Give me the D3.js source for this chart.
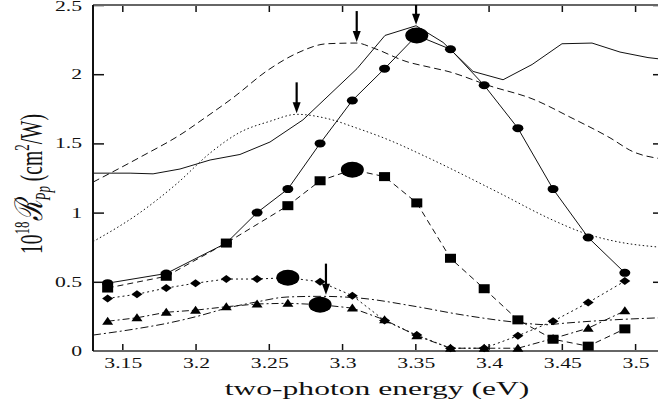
<!doctype html>
<html>
<head>
<meta charset="utf-8">
<title>two-photon response</title>
<script src="https://cdn.jsdelivr.net/npm/d3@7"></script>
<style>
  body { margin: 0; background: #fff; }
  text { font-family: "Liberation Serif", "DejaVu Serif", serif; fill: #111; }
</style>
</head>
<body>
<div id="chart"></div>
<script>
  // marker energies (eV)
  var energies = [3.14, 3.16, 3.18, 3.20, 3.221, 3.242, 3.263, 3.285, 3.307, 3.329,
    3.351, 3.374, 3.397, 3.42, 3.444, 3.468, 3.493];
  var circles = [0.49, null, 0.56, null, 0.78, 1.0, 1.17, 1.50, 1.81, 2.04,
    2.28, 2.18, 1.92, 1.61, 1.17, 0.82, 0.565];
  var squares = [0.455, null, 0.54, null, 0.78, null, 1.05, 1.23, 1.31, 1.26,
    1.07, 0.67, 0.45, 0.225, 0.085, 0.035, 0.16];
  var diamonds = [0.38, 0.41, 0.455, 0.49, 0.52, 0.52, 0.53, 0.50, 0.40, 0.22,
    0.115, 0.02, 0.02, 0.11, 0.215, 0.35, 0.505];
  var triangles = [0.215, 0.24, 0.28, 0.295, 0.32, 0.34, 0.345, 0.335, 0.31, 0.225,
    0.11, 0.02, 0.02, 0.02, 0.09, 0.165, 0.29];
  // index of the big (maximum) marker in each series
  var peakIndex = {circles: 10, squares: 8, diamonds: 6, triangles: 7};

  // curves without markers
  var solidE = [3.13, 3.1553, 3.171, 3.1894, 3.2099, 3.2303, 3.2508, 3.2733, 3.3102, 3.3293,
    3.3505, 3.3689, 3.3894, 3.4099, 3.4297, 3.4501, 3.4706, 3.4897, 3.5088, 3.517];
  var solidV = [1.285, 1.285, 1.28, 1.315, 1.38, 1.42, 1.51, 1.67, 2.04, 2.28,
    2.35, 2.23, 2.02, 1.96, 2.07, 2.22, 2.225, 2.16, 2.12, 2.11];
  var dashedE = [3.13, 3.1621, 3.1914, 3.2044, 3.2256, 3.2495, 3.2699, 3.2897, 3.3102, 3.3211,
    3.3443, 3.36, 3.3723, 3.401, 3.4303, 3.4556, 3.4829, 3.4986, 3.517];
  var dashedV = [1.22, 1.40, 1.575, 1.67, 1.83, 2.03, 2.155, 2.22, 2.225, 2.19,
    2.09, 2.05, 2.02, 1.915, 1.82, 1.69, 1.54, 1.44, 1.39];
  var dottedE = [3.13, 3.1621, 3.1873, 3.2099, 3.2303, 3.2508, 3.2692, 3.2897, 3.3102, 3.3307,
    3.36, 3.4058, 3.444, 3.4658, 3.4877, 3.517];
  var dottedV = [0.79, 1.0, 1.21, 1.43, 1.58, 1.66, 1.71, 1.68, 1.61, 1.53,
    1.39, 1.15, 0.945, 0.85, 0.79, 0.75];
  var dashdotE = [3.13, 3.1621, 3.1805, 3.201, 3.2215, 3.2419, 3.2624, 3.285, 3.3143, 3.3484,
    3.3826, 3.4167, 3.4399, 3.4508, 3.4849, 3.517];
  var dashdotV = [0.115, 0.165, 0.2, 0.25, 0.31, 0.355, 0.39, 0.395, 0.38, 0.325,
    0.26, 0.21, 0.19, 0.2, 0.225, 0.24];

  // arrows: energy and value of the tip
  var arrowE = [3.31, 3.3505, 3.269, 3.289];
  var arrowV = [2.225, 2.35, 1.71, 0.40];

  var xTicks = [3.15, 3.2, 3.25, 3.3, 3.35, 3.4, 3.45, 3.5];
  var yTicks = [0, 0.5, 1, 1.5, 2, 2.5];

  var W = 658, H = 408;
  var pLeft = 93, pRight = 660, pTop = 5, pBottom = 351;
  var stretch = 1.55;  // the original figure is stretched sideways

  var svg = d3.select('#chart').append('svg')
      .attr('width', W)
      .attr('height', H);

  var x = d3.scaleLinear().domain([3.13, 3.517]).range([pLeft, pRight]);
  var y = d3.scaleLinear().domain([0, 2.5]).range([pBottom, pTop]);

  // axes (ticks inside)
  var gl = svg.append('g').attr('transform', 'translate(' + pLeft + ',0)')
      .call(d3.axisRight(y).tickValues(yTicks.slice(1)).tickSize(11).tickFormat(''));
  var gr = svg.append('g').attr('transform', 'translate(' + pRight + ',0)')
      .call(d3.axisLeft(y).tickValues(yTicks.slice(1)).tickSize(7).tickFormat(''));
  var gb = svg.append('g').attr('transform', 'translate(0,' + pBottom + ')')
      .call(d3.axisTop(x).tickValues(xTicks).tickSize(7).tickFormat(''));
  var gt = svg.append('g').attr('transform', 'translate(0,' + pTop + ')')
      .call(d3.axisBottom(x).tickValues(xTicks).tickSize(7).tickFormat(''));
  [gl, gr, gb, gt].forEach(function(g) {
    g.select('.domain').remove();
    g.selectAll('.tick line').attr('stroke', '#111').attr('stroke-width', 1.5);
  });

  // frame
  svg.append('line').attr('x1', pLeft).attr('x2', pRight).attr('y1', pTop).attr('y2', pTop)
      .attr('stroke', '#666').attr('stroke-width', 2);
  svg.append('line').attr('x1', pLeft).attr('x2', pRight).attr('y1', pBottom).attr('y2', pBottom)
      .attr('stroke', '#666').attr('stroke-width', 2);
  svg.append('line').attr('x1', pLeft).attr('x2', pLeft).attr('y1', pTop).attr('y2', pBottom)
      .attr('stroke', '#111').attr('stroke-width', 2);

  // tick labels
  svg.append('g').selectAll('text').data(yTicks).enter().append('text')
      .attr('transform', function(d) {
        return 'translate(82,' + Math.max(y(d) + 5, 11) + ') scale(' + stretch + ',1)';
      })
      .attr('text-anchor', 'end')
      .attr('font-size', '14px')
      .text(function(d) { return String(d); });
  svg.append('g').selectAll('text').data(xTicks).enter().append('text')
      .attr('transform', function(d) {
        return 'translate(' + (x(d) + 1) + ',368) scale(' + stretch + ',1)';
      })
      .attr('text-anchor', 'middle')
      .attr('font-size', '14px')
      .text(function(d) { return String(d); });

  // axis titles
  svg.append('text')
      .attr('transform', 'translate(377,395) scale(1.62,1)')
      .attr('text-anchor', 'middle')
      .attr('font-size', '19.5px')
      .text('two-photon energy (eV)');

  var yt = svg.append('text')
      .attr('transform', 'translate(42,184) scale(1.6,1) rotate(-90)')
      .attr('text-anchor', 'middle')
      .attr('font-size', '19.5px');
  yt.append('tspan').text('10');
  yt.append('tspan').attr('dy', -8).attr('font-size', '13px').text('18');
  yt.append('tspan').attr('dy', 8).attr('font-style', 'italic').attr('font-size', '24px').text('ℛ');
  yt.append('tspan').attr('dy', 5).attr('font-style', 'italic').attr('font-size', '13px').text('Pp');
  yt.append('tspan').attr('dy', -5).text(' (cm');
  yt.append('tspan').attr('dy', -8).attr('font-size', '13px').text('2');
  yt.append('tspan').attr('dy', 8).text('/W)');

  var plot = svg.append('g');

  function drawCurve(es, vs, dash, curve) {
    var pts = es.map(function(e, i) { return [e, vs[i]]; });
    plot.append('path')
        .datum(pts)
        .attr('fill', 'none')
        .attr('stroke', '#111')
        .attr('stroke-width', 1)
        .attr('stroke-dasharray', dash)
        .attr('d', d3.line()
            .x(function(d) { return x(d[0]); })
            .y(function(d) { return y(d[1]); })
            .curve(curve));
  }

  drawCurve(solidE, solidV, null, d3.curveLinear);
  drawCurve(dashedE, dashedV, '7,4', d3.curveMonotoneX);
  drawCurve(dottedE, dottedV, '1.5,2.5', d3.curveMonotoneX);
  drawCurve(dashdotE, dashdotV, '8,3,2,3', d3.curveMonotoneX);

  function seriesPts(vals) {
    var out = [];
    vals.forEach(function(v, i) {
      if (v !== null) out.push({e: energies[i], v: v, i: i});
    });
    return out;
  }

  var markerSeries = [
    {name: 'circles', vals: circles, dash: null},
    {name: 'squares', vals: squares, dash: '6,4'},
    {name: 'diamonds', vals: diamonds, dash: '2,3'},
    {name: 'triangles', vals: triangles, dash: '7,3,2,3'}
  ];

  markerSeries.forEach(function(s) {
    var pts = seriesPts(s.vals);
    plot.append('path')
        .datum(pts)
        .attr('fill', 'none')
        .attr('stroke', '#111')
        .attr('stroke-width', 1)
        .attr('stroke-dasharray', s.dash)
        .attr('d', d3.line()
            .x(function(d) { return x(d.e); })
            .y(function(d) { return y(d.v); }));
  });

  markerSeries.forEach(function(s) {
    var pts = seriesPts(s.vals);
    var g = plot.append('g');
    pts.forEach(function(d) {
      var cx = x(d.e), cy = y(d.v);
      if (d.i === peakIndex[s.name]) {
        g.append('ellipse').attr('cx', cx).attr('cy', cy)
            .attr('rx', 11.5).attr('ry', 8).attr('fill', '#000');
        return;
      }
      if (s.name === 'circles') {
        g.append('ellipse').attr('cx', cx).attr('cy', cy)
            .attr('rx', 5.5).attr('ry', 4).attr('fill', '#000');
      } else if (s.name === 'squares') {
        g.append('rect').attr('x', cx - 5.5).attr('y', cy - 4.5)
            .attr('width', 11).attr('height', 9).attr('fill', '#000');
      } else if (s.name === 'diamonds') {
        g.append('path').attr('fill', '#000')
            .attr('d', 'M' + (cx - 5.5) + ',' + cy + 'L' + cx + ',' + (cy - 4) +
                'L' + (cx + 5.5) + ',' + cy + 'L' + cx + ',' + (cy + 4) + 'Z');
      } else {
        g.append('path').attr('fill', '#000')
            .attr('d', 'M' + (cx - 5.5) + ',' + (cy + 3.5) + 'L' + cx + ',' + (cy - 4.5) +
                'L' + (cx + 5.5) + ',' + (cy + 3.5) + 'Z');
      }
    });
  });

  // arrows
  arrowE.forEach(function(e, i) {
    var ax = x(e), tip = y(arrowV[i]) - 1;
    var tail = Math.max(pTop, tip - 31);
    plot.append('line')
        .attr('x1', ax).attr('x2', ax)
        .attr('y1', tail).attr('y2', tip - 8)
        .attr('stroke', '#000').attr('stroke-width', 2.2);
    plot.append('path').attr('fill', '#000')
        .attr('d', 'M' + (ax - 4) + ',' + (tip - 11) + 'L' + (ax + 4) + ',' + (tip - 11) +
            'L' + ax + ',' + tip + 'Z');
  });
</script>
</body>
</html>
